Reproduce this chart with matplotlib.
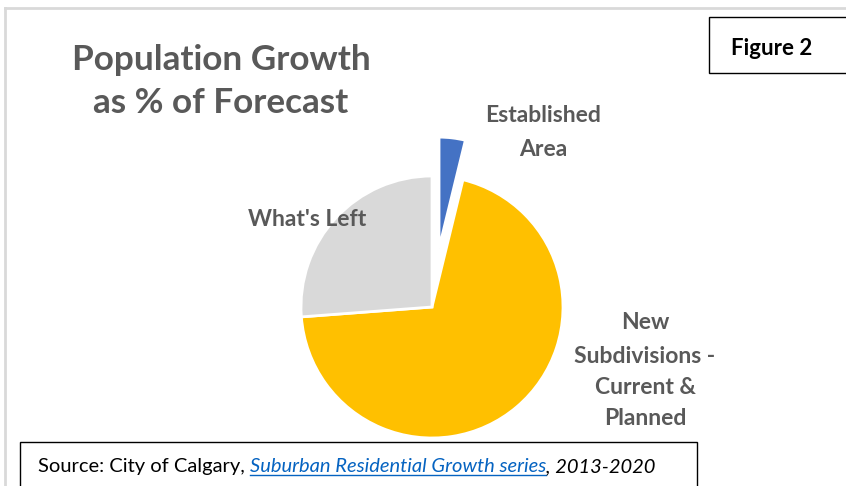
import matplotlib
matplotlib.use("Agg")
import matplotlib.pyplot as plt
from matplotlib.patches import Rectangle
from matplotlib.lines import Line2D

plt.rcParams['font.family'] = ['Lato', 'DejaVu Sans']

# data (share of forecast population growth, %)
labels = ["Established\nArea", "New\nSubdivisions -\nCurrent &\nPlanned", "What's Left"]
values = [3.8, 70.0, 26.2]
colors = ["#4472c4", "#ffc000", "#d9d9d9"]
explode = [0.45, 0, 0]

W, H = 846, 486
fig = plt.figure(figsize=(W / 100, H / 100), dpi=100)

def fx(px):
    return px / W

def fy(py):
    return 1 - py / H

# light outer frame of the chart area
fig.add_artist(Line2D([fx(5), fx(846)], [fy(8), fy(8)], color="#d9d9d9", lw=2))
fig.add_artist(Line2D([fx(5), fx(5)], [fy(8), fy(486)], color="#d9d9d9", lw=2))

# pie axes: centre at (432, 307) px, radius 131 px
cx, cy, R, box = 432, 307, 131, 400
ax = fig.add_axes([fx(cx - box / 2), fy(cy + box / 2), box / W, box / H])
wedges, _ = ax.pie(values, colors=colors, explode=explode, startangle=90,
                   counterclock=False, radius=1,
                   wedgeprops=dict(edgecolor="white", linewidth=2))
wedges[0].set_radius(0.85)
lim = box / 2 / R
ax.set_xlim(-lim, lim)
ax.set_ylim(-lim, lim)
ax.set_aspect("equal")
ax.axis("off")

grey = "#595959"

def lines(text, x, baselines, size, color):
    for line, b in zip(text.split("\n"), baselines):
        fig.text(fx(x), fy(b), line, ha="center", va="baseline", fontsize=size,
                 fontweight="bold", color=color)

lines("Population Growth\nas % of Forecast", 221, [70, 113], 25.3, grey)

label_pos = [(543, [122, 156]), (645, [329, 363, 394, 425]), (307, [226])]
for lab, (x, bl) in zip(labels, label_pos):
    lines(lab, x, bl, 16.5, grey)

# "Figure 2" box
fig.add_artist(Rectangle((fx(709), fy(73)), fx(150), 56 / H, transform=fig.transFigure,
                         facecolor="white", edgecolor="black", lw=1))
lines("Figure 2", 772, [55], 16, "black")

# source box
fig.add_artist(Rectangle((fx(20), fy(500)), fx(677), 58 / H, transform=fig.transFigure,
                         facecolor="white", edgecolor="black", lw=1))

r = fig.canvas.get_renderer()
parts = [("Source: City of Calgary, ", "black", "normal"),
         ("Suburban Residential Growth series", "#0563c1", "italic"),
         (", 2013-2020", "black", "italic")]
x0 = fx(38)
for txt, col, style in parts:
    t = fig.text(x0, fy(472), txt, ha="left", va="baseline", fontsize=14.5,
                 color=col, style=style)
    bb = t.get_window_extent(renderer=r)
    if col != "black":
        fig.add_artist(Line2D([bb.x0 / W, bb.x1 / W], [fy(475), fy(475)],
                              color=col, lw=1))
    x0 = bb.x1 / W

fig.savefig("out.png", dpi=100)
